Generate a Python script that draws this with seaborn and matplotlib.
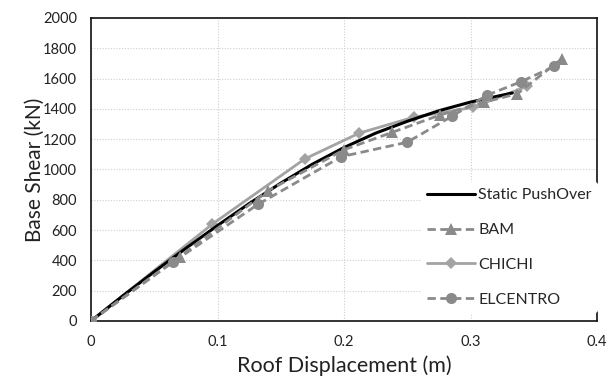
import matplotlib
matplotlib.use("Agg")
import matplotlib.pyplot as plt
import seaborn as sns
import pandas as pd

# Roof displacement (m) and base shear (kN) for each analysis
pushover_disp = [0, 0.025, 0.05, 0.075, 0.1, 0.125, 0.15, 0.175, 0.2, 0.225, 0.25, 0.275, 0.3, 0.333]
pushover_shear = [0, 165, 325, 480, 630, 775, 910, 1035, 1145, 1240, 1318, 1388, 1445, 1505]

bam_disp = [0, 0.07, 0.14, 0.2, 0.238, 0.276, 0.311, 0.337, 0.372]
bam_shear = [0, 425, 860, 1130, 1245, 1360, 1445, 1500, 1730]

chichi_disp = [0, 0.096, 0.169, 0.212, 0.255, 0.302, 0.345]
chichi_shear = [0, 640, 1070, 1240, 1345, 1410, 1550]

elcentro_disp = [0, 0.065, 0.132, 0.198, 0.25, 0.285, 0.313, 0.34, 0.366]
elcentro_shear = [0, 390, 770, 1085, 1180, 1350, 1490, 1580, 1680]

x_ticks = [0, 0.1, 0.2, 0.3, 0.4]
x_tick_labels = ["0", "0.1", "0.2", "0.3", "0.4"]
y_ticks = list(range(0, 2001, 200))

sns.set_theme(style="white")
plt.rcParams["font.family"] = ["Lato", "DejaVu Sans"]

fig = plt.figure(figsize=(6.09, 3.78), dpi=100)
ax = fig.add_axes([0.1494, 0.1508, 0.8310, 0.8016])

dark_gray = "#8a8a8a"
light_gray = "#a3a3a3"

sns.lineplot(x=pushover_disp, y=pushover_shear, ax=ax, color="black",
             linewidth=2.2, label="Static PushOver", sort=False, zorder=3)
sns.lineplot(x=bam_disp, y=bam_shear, ax=ax, color=dark_gray, linewidth=2,
             linestyle=(0, (3, 1.6)), marker="^", markersize=8, markeredgewidth=0,
             label="BAM", sort=False, zorder=4)
sns.lineplot(x=chichi_disp, y=chichi_shear, ax=ax, color=light_gray, linewidth=2,
             marker="D", markersize=6.5, markeredgewidth=0,
             label="CHICHI", sort=False, zorder=2)
sns.lineplot(x=elcentro_disp, y=elcentro_shear, ax=ax, color=dark_gray, linewidth=2,
             linestyle=(0, (3, 1.6)), marker="o", markersize=8, markeredgewidth=0,
             label="ELCENTRO", sort=False, zorder=4)

ax.set_xlim(0, 0.4)
ax.set_ylim(0, 2000)
ax.set_xticks(x_ticks)
ax.set_xticklabels(x_tick_labels)
ax.set_yticks(y_ticks)
ax.tick_params(axis="both", length=0, labelsize=10.5, colors="#222222", pad=10)

ax.grid(True, color="#cfcfcf", linestyle=(0, (1, 1.5)), linewidth=0.8)
ax.set_axisbelow(True)
for s in ax.spines.values():
    s.set_visible(True)
    s.set_color("#111111")
    s.set_linewidth(1.2)

ax.set_xlabel("Roof Displacement (m)", fontsize=15.5, color="#222222", labelpad=5)
ax.set_ylabel("Base Shear (kN)", fontsize=15, color="#222222", labelpad=-1.5)

leg = ax.legend(loc="upper left", bbox_to_anchor=(0.652, 0.46), frameon=True,
                fontsize=11.5, handlelength=3.0, labelspacing=1.3,
                borderpad=0.4, handletextpad=0.2, borderaxespad=0)
leg.get_frame().set_facecolor("white")
leg.get_frame().set_edgecolor("none")
leg.get_frame().set_alpha(1)

fig.savefig("out.png", dpi=100)
